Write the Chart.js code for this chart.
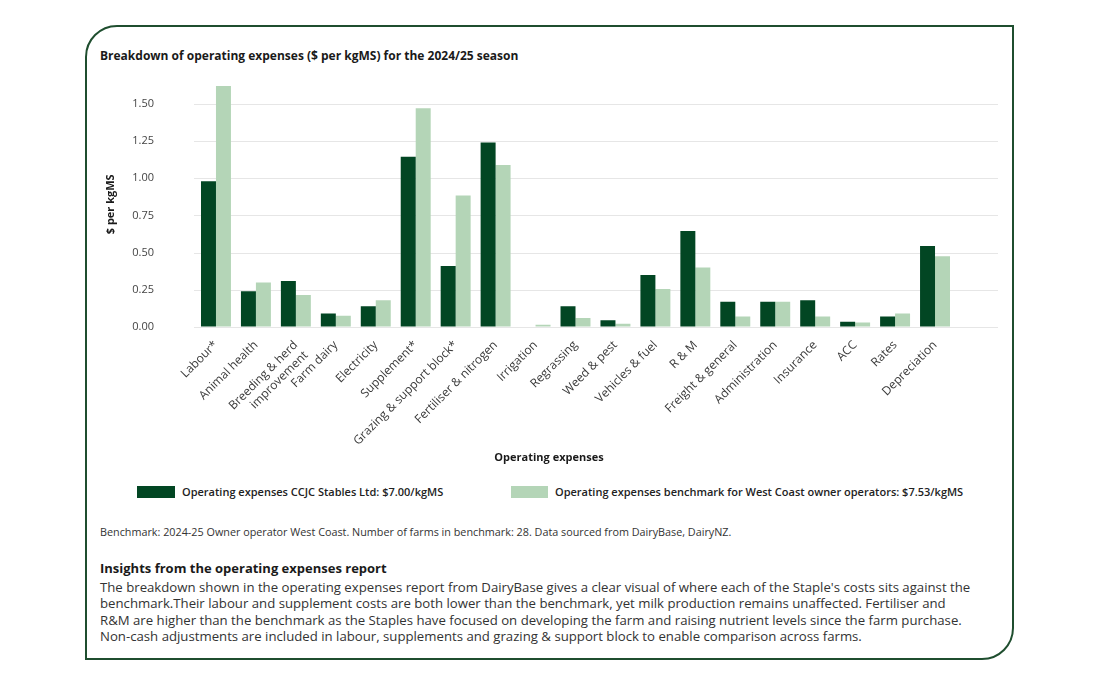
<!DOCTYPE html>
<html>
<head>
<meta charset="utf-8">
<script src="https://cdn.jsdelivr.net/npm/chart.js@4.4.1/dist/chart.umd.min.js"></script>
<style>
  body { margin: 0; background: #fff; font-family: "Open Sans", sans-serif; color: #222; }
  #card { position: absolute; left: 85px; top: 25px; width: 925px; height: 631px;
          border: 2px solid #1f4e2f; border-radius: 32px 0 32px 0; }
  .abs { position: absolute; white-space: nowrap; }
  #title { left: 100px; top: 47px; font-size: 12px; font-weight: 700; color: #1a1a1a; }
  #wrap { position: absolute; left: 100px; top: 75px; width: 900px; height: 375px; }
  #xtitle { left: 100px; top: 449px; width: 898px; text-align: center; font-size: 11px; font-weight: 700; color: #1a1a1a; }
  .box { position: absolute; top: 486px; height: 12px; }
  .leg { top: 484px; font-size: 11px; font-weight: 600; color: #222; }
  #note { left: 100px; top: 524px; font-size: 10.8px; color: #333; }
  #head { left: 100px; top: 559px; font-size: 13px; font-weight: 700; color: #1a1a1a; }
  #body { left: 100px; top: 579px; font-size: 13.2px; line-height: 16.3px; color: #333; }
</style>
</head>
<body>
<div id="card"></div>
<div id="title" class="abs">Breakdown of operating expenses ($ per kgMS) for the 2024/25 season</div>
<div id="wrap"><canvas id="opexChart"></canvas></div>
<div id="xtitle" class="abs">Operating expenses</div>
<div class="box" style="left:137px;width:38px;background:#024623"></div>
<div class="abs leg" style="left:182px">Operating expenses CCJC Stables Ltd: $7.00/kgMS</div>
<div class="box" style="left:511px;width:37px;background:#b4d5b7"></div>
<div class="abs leg" style="left:555px">Operating expenses benchmark for West Coast owner operators: $7.53/kgMS</div>
<div id="note" class="abs">Benchmark: 2024-25 Owner operator West Coast. Number of farms in benchmark: 28. Data sourced from DairyBase, DairyNZ.</div>
<div id="head" class="abs">Insights from the operating expenses report</div>
<div id="body" class="abs">The breakdown shown in the operating expenses report from DairyBase gives a clear visual of where each of the Staple's costs sits against the<br>benchmark.Their labour and supplement costs are both lower than the benchmark, yet milk production remains unaffected. Fertiliser and<br>R&amp;M are higher than the benchmark as the Staples have focused on developing the farm and raising nutrient levels since the farm purchase.<br>Non-cash adjustments are included in labour, supplements and grazing &amp; support block to enable comparison across farms.</div>

<script>
// Chart data
const categories = ['Labour*', 'Animal health', ['Breeding & herd', 'improvement'], 'Farm dairy', 'Electricity',
  'Supplement*', 'Grazing & support block*', 'Fertiliser & nitrogen', 'Irrigation', 'Regrassing',
  'Weed & pest', 'Vehicles & fuel', 'R & M', 'Freight & general', 'Administration', 'Insurance',
  'ACC', 'Rates', 'Depreciation'];
const stablesValues = [0.98, 0.24, 0.31, 0.09, 0.14, 1.145, 0.41, 1.24, 0, 0.14, 0.045, 0.35, 0.645, 0.17, 0.17, 0.18, 0.035, 0.07, 0.545];
const benchmarkValues = [1.62, 0.30, 0.215, 0.075, 0.18, 1.47, 0.885, 1.09, 0.015, 0.06, 0.022, 0.255, 0.40, 0.07, 0.17, 0.07, 0.03, 0.09, 0.475];
const yMax = 1.65;
const yStep = 0.25;

// horizontal grid lines, run past the last category like the original
const gridPlugin = {
  id: 'wideGrid',
  beforeDatasetsDraw(chart) {
    const { ctx, chartArea } = chart;
    const y = chart.scales.y;
    ctx.save();
    ctx.strokeStyle = '#e6e6e6';
    ctx.lineWidth = 1;
    y.ticks.forEach(t => {
      const py = Math.round(y.getPixelForValue(t.value)) + 0.5;
      ctx.beginPath();
      ctx.moveTo(chartArea.left - 2, py);
      ctx.lineTo(chart.width - 2, py);
      ctx.stroke();
    });
    ctx.restore();
  }
};

document.addEventListener('DOMContentLoaded', function() {
  const ctx = document.getElementById('opexChart').getContext('2d');
  new Chart(ctx, {
    type: 'bar',
    data: {
      labels: categories,
      datasets: [
        { label: 'Operating expenses CCJC Stables Ltd: $7.00/kgMS', data: stablesValues, backgroundColor: '#024623' },
        { label: 'Operating expenses benchmark for West Coast owner operators: $7.53/kgMS', data: benchmarkValues, backgroundColor: '#b4d5b7' }
      ]
    },
    options: {
      responsive: true,
      maintainAspectRatio: false,
      animation: false,
      layout: { padding: { top: 0, right: 45, left: 0, bottom: 0 } },
      datasets: { bar: { barPercentage: 1, categoryPercentage: 0.75, borderWidth: 0 } },
      plugins: { legend: { display: false }, tooltip: { enabled: false } },
      scales: {
        x: {
          grid: { display: false },
          border: { display: false },
          ticks: { autoSkip: false, minRotation: 45, maxRotation: 45, padding: 3,
                   color: '#3a3a3a', font: { family: 'Open Sans', size: 12 } },
          afterFit: s => { s.height = 123; }
        },
        y: {
          min: 0, max: yMax,
          grid: { display: true, drawOnChartArea: false, drawTicks: true, tickLength: 42,
                  color: 'transparent', tickColor: 'transparent' },
          border: { display: false },
          ticks: { stepSize: yStep, includeBounds: false, padding: 0, color: '#444',
                   font: { family: 'Open Sans', size: 11 }, callback: v => v.toFixed(2) },
          title: { display: true, text: '$ per kgMS', color: '#1a1a1a', padding: { top: 4, bottom: 0 },
                   font: { family: 'Open Sans', size: 11, weight: 'bold' } },
          afterFit: s => { s.width = 96; }
        }
      }
    },
    plugins: [gridPlugin]
  });
});
</script>
</body>
</html>
